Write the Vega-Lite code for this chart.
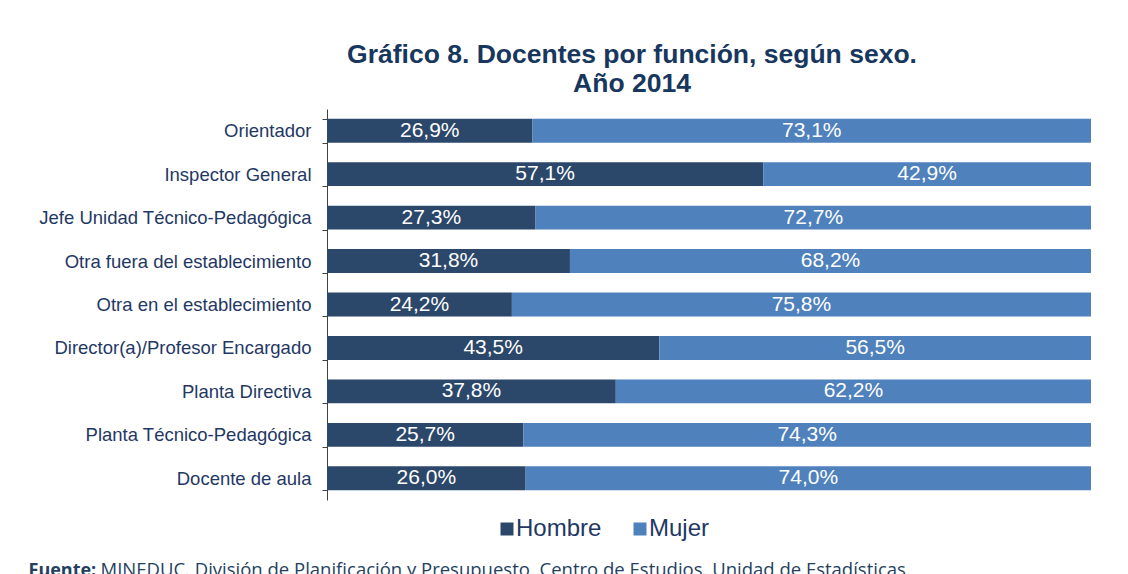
{
  "$schema": "https://vega.github.io/schema/vega-lite/v6.json",
  "autosize": {"type": "none"},
  "padding": {"left": 327, "top": 109, "right": 37, "bottom": 74},
  "width": 764,
  "height": 391,
  "background": "white",
  "config": {
    "view": {"stroke": null},
    "locale": {"number": {"decimal": ",", "thousands": ".", "grouping": [3], "currency": ["", " €"]}}
  },
  "title": {
    "text": ["Gráfico 8. Docentes por función, según sexo.", "Año 2014"],
    "font": "Liberation Sans",
    "fontSize": 26.5,
    "fontWeight": "bold",
    "color": "#17375e",
    "lineHeight": 29,
    "anchor": "middle",
    "frame": "group",
    "dx": -77,
    "offset": 3
  },
  "data": {
    "values": [
      {"funcion": "Orientador", "sexo": "Hombre", "pct": 0.269},
      {"funcion": "Orientador", "sexo": "Mujer", "pct": 0.731},
      {"funcion": "Inspector General", "sexo": "Hombre", "pct": 0.571},
      {"funcion": "Inspector General", "sexo": "Mujer", "pct": 0.429},
      {"funcion": "Jefe Unidad Técnico-Pedagógica", "sexo": "Hombre", "pct": 0.273},
      {"funcion": "Jefe Unidad Técnico-Pedagógica", "sexo": "Mujer", "pct": 0.727},
      {"funcion": "Otra fuera del establecimiento", "sexo": "Hombre", "pct": 0.318},
      {"funcion": "Otra fuera del establecimiento", "sexo": "Mujer", "pct": 0.682},
      {"funcion": "Otra en el establecimiento", "sexo": "Hombre", "pct": 0.242},
      {"funcion": "Otra en el establecimiento", "sexo": "Mujer", "pct": 0.758},
      {"funcion": "Director(a)/Profesor Encargado", "sexo": "Hombre", "pct": 0.435},
      {"funcion": "Director(a)/Profesor Encargado", "sexo": "Mujer", "pct": 0.565},
      {"funcion": "Planta Directiva", "sexo": "Hombre", "pct": 0.378},
      {"funcion": "Planta Directiva", "sexo": "Mujer", "pct": 0.622},
      {"funcion": "Planta Técnico-Pedagógica", "sexo": "Hombre", "pct": 0.257},
      {"funcion": "Planta Técnico-Pedagógica", "sexo": "Mujer", "pct": 0.743},
      {"funcion": "Docente de aula", "sexo": "Hombre", "pct": 0.26},
      {"funcion": "Docente de aula", "sexo": "Mujer", "pct": 0.74}
    ]
  },
  "encoding": {
    "y": {
      "field": "funcion",
      "type": "nominal",
      "sort": null,
      "scale": {"paddingInner": 0.45, "paddingOuter": 0.225},
      "axis": {
        "title": null,
        "tickBand": "extent",
        "tickSize": 5,
        "tickColor": "#404040",
        "domainColor": "#404040",
        "labelPadding": 11,
        "labelFont": "Liberation Sans",
        "labelFontSize": 18.5,
        "labelColor": "#1f3864",
        "labelLimit": 400
      }
    }
  },
  "layer": [
    {
      "mark": {"type": "bar"},
      "encoding": {
        "x": {
          "field": "pct",
          "type": "quantitative",
          "stack": "normalize",
          "axis": {
            "orient": "bottom",
            "domain": false,
            "ticks": false,
            "labels": false,
            "grid": false,
            "title": "Fuente:",
            "titleFont": "Open Sans",
            "titleFontSize": 18,
            "titleFontWeight": "bold",
            "titleColor": "#243f60",
            "titleX": -299,
            "titleY": 75,
            "titleAlign": "left",
            "titleBaseline": "alphabetic"
          }
        },
        "color": {
          "field": "sexo",
          "type": "nominal",
          "scale": {"domain": ["Hombre", "Mujer"], "range": ["#2b476a", "#4f81bd"]},
          "legend": {
            "title": null,
            "orient": "none",
            "legendX": 168,
            "legendY": 408,
            "direction": "horizontal",
            "columns": 2,
            "columnPadding": 26,
            "symbolType": "square",
            "symbolSize": 169,
            "symbolStrokeWidth": 0,
            "labelFont": "Liberation Sans",
            "labelFontSize": 24,
            "labelColor": "#1f3864",
            "labelOffset": -3
          }
        },
        "order": {"field": "sexo", "sort": "ascending"}
      }
    },
    {
      "mark": {"type": "text", "color": "white", "font": "Liberation Sans", "fontSize": 21, "baseline": "middle"},
      "encoding": {
        "x": {
          "field": "pct",
          "type": "quantitative",
          "stack": "normalize",
          "bandPosition": 0.5,
          "axis": {
            "orient": "bottom",
            "domain": false,
            "ticks": false,
            "labels": false,
            "grid": false,
            "title": "MINEDUC. División de Planificación y Presupuesto. Centro de Estudios. Unidad de Estadísticas.",
            "titleFont": "Open Sans",
            "titleFontSize": 18.5,
            "titleFontWeight": "normal",
            "titleColor": "#243f60",
            "titleX": -227,
            "titleY": 75,
            "titleAlign": "left",
            "titleBaseline": "alphabetic"
          }
        },
        "text": {"field": "pct", "type": "quantitative", "format": ".1%"},
        "detail": {"field": "sexo"},
        "order": {"field": "sexo", "sort": "ascending"}
      }
    }
  ],
  "resolve": {"axis": {"x": "independent"}}
}
